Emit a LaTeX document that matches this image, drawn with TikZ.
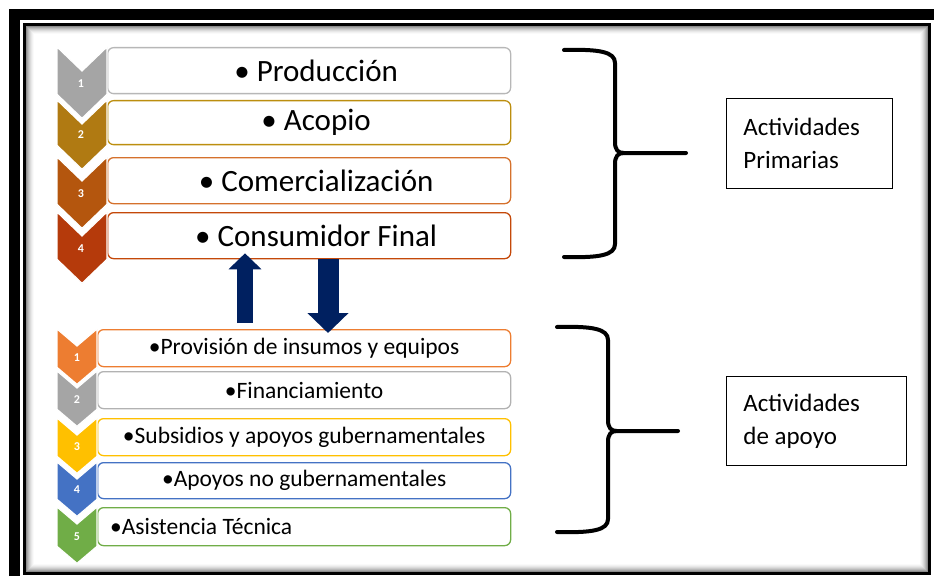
\documentclass[tikz,border=0pt]{standalone}
\usepackage{fontspec}
\setmainfont{Carlito}
\usepackage{xcolor}
\usepackage{tikz}
\usetikzlibrary{calc,arrows.meta,positioning}
\definecolor{navy}{RGB}{0,32,96}
\definecolor{pgray}{RGB}{165,165,165}
\definecolor{pgold}{RGB}{176,122,18}
\definecolor{porange}{RGB}{180,86,14}
\definecolor{pred}{RGB}{181,58,11}
\definecolor{sorange}{RGB}{237,125,49}
\definecolor{sgray}{RGB}{165,165,165}
\definecolor{sgold}{RGB}{255,192,0}
\definecolor{sblue}{RGB}{68,114,196}
\definecolor{sgreen}{RGB}{112,173,71}
\tikzset{
  stepbox/.style={rectangle, draw, rounded corners=6pt, line width=1.3pt, fill=white, anchor=north west, minimum width=403pt, inner sep=0pt, font=\fontsize{31}{34}\selectfont},
  supbox/.style={rectangle, draw, rounded corners=6pt, line width=1.3pt, fill=white, anchor=north west, minimum width=413pt, inner sep=0pt, font=\fontsize{23.5}{26}\selectfont},
  numlbl/.style={text=white, inner sep=0pt, font=\fontsize{12}{13}\selectfont\bfseries},
  infobox/.style={draw, line width=0.8pt, anchor=north west, align=left, inner xsep=17pt, font=\fontsize{25}{33}\selectfont},
  upflow/.style={navy, line width=16pt, -{Triangle[length=16pt,width=32pt]}},
  downflow/.style={navy, line width=21pt, -{Triangle[length=20pt,width=40pt]}},
  bracestroke/.style={line width=4pt, line cap=round}
}
% chevron left of a box: node, width, depth, colour
\newcommand{\drawchev}[4]{%
  \fill[#4, draw=white, line width=1.2pt] ([xshift=-#2]#1.north west) -- ([xshift=-#2/2, yshift=-#3]#1.north west) -- (#1.north west) -- (#1.south west) -- ([xshift=-#2/2, yshift=-#3]#1.south west) -- ([xshift=-#2]#1.south west) -- cycle;}
\begin{document}
\begin{tikzpicture}[x=1pt,y=-1pt]
\useasboundingbox (0,0) rectangle (934,583);
% frame
\draw[line width=11pt] (14.5,576) -- (14.5,14.5) -- (934,14.5);
\foreach \k/\g in {1/45,2/35,3/27,4/20,5/14,6/9,7/5,8/2}
  \draw[black!\g, line width=1pt] ({25.5+\k},{25.5+\k}) rectangle ({928-\k},{572-\k});
\draw[line width=3pt] (24.5,24.5) rectangle (929,573);

% primary activities
\node[stepbox, draw=pgray!80, minimum height=46pt] (c1) at (107,47) {\hspace*{14pt}\textbullet\ Producción};
\node[stepbox, draw=pgold!85!yellow, minimum height=44pt] (c2) at (107,100) {\hspace*{14pt}\textbullet\ Acopio};
\node[stepbox, draw=sorange!90!black, minimum height=46pt] (c3) at (107,157) {\hspace*{14pt}\textbullet\ Comercialización};
\node[stepbox, draw=pred!80!orange, minimum height=46pt] (c4) at (107,212) {\hspace*{14pt}\textbullet\ Consumidor Final};
\foreach \i/\c in {1/pgray,2/pgold,3/porange,4/pred}{
  \drawchev{c\i}{50pt}{24pt}{\c}
  \node[numlbl] (cn\i) at ([xshift=-26pt, yshift=11pt]c\i.south west) {\i};
}

% support activities
\node[supbox, draw=sorange, minimum height=37pt] (p1) at (97,329) {\textbullet Provisión de insumos y equipos};
\node[supbox, draw=sgray!85, minimum height=37pt] (p2) at (97,371) {\textbullet Financiamiento};
\node[supbox, draw=sgold, minimum height=37pt] (p3) at (97,418) {\textbullet Subsidios y apoyos gubernamentales};
\node[supbox, draw=sblue, minimum height=36pt] (p4) at (97,462) {\textbullet Apoyos no gubernamentales};
\node[supbox, draw=sgreen, minimum height=38pt, text width=400pt, inner xsep=6.5pt, align=left] (p5) at (97,507) {\spaceskip=0pt\relax\hspace*{6pt}\textbullet Asistencia Técnica};
\foreach \i/\c in {1/sorange,2/sgray,3/sgold,4/sblue,5/sgreen}{
  \drawchev{p\i}{40pt}{17pt}{\c}
  \node[numlbl] (pn\i) at ([xshift=-20pt, yshift=10pt]p\i.south west) {\i};
}

% flows between both chains
\coordinate (upx) at (245,0);
\coordinate (downx) at (328,0);
\draw[upflow, shorten <=6pt, shorten >=-6pt] (p1.north -| upx) -- (c4.south -| upx);
\draw[downflow, shorten >=-4pt] (c4.south -| downx) -- (p1.north -| downx);

% braces
\draw[bracestroke] (564,50) .. controls (600,49) and (615,52) .. (615,63) -- (615,142) .. controls (615,150) and (618,153) .. (624,153) -- (686,153);
\draw[bracestroke] (564,257) .. controls (600,258) and (615,255) .. (615,244) -- (615,164) .. controls (615,156) and (618,153) .. (624,153);
\draw[bracestroke] (557,327) .. controls (593,326) and (608,329) .. (608,340) -- (608,420) .. controls (608,428) and (611,431) .. (617,431) -- (678,431);
\draw[bracestroke] (557,532) .. controls (593,533) and (608,530) .. (608,519) -- (608,442) .. controls (608,434) and (611,431) .. (617,431);

\node[infobox, minimum width=166pt, minimum height=90pt, text width=132pt] (prim) at (726,98) {\spaceskip=0pt\relax Actividades\\Primarias};
\node[infobox, minimum width=180pt, minimum height=89pt, text width=146pt] (apoyo) at (726,376) {\spaceskip=0pt\relax Actividades\\de apoyo};
\end{tikzpicture}
\end{document}
